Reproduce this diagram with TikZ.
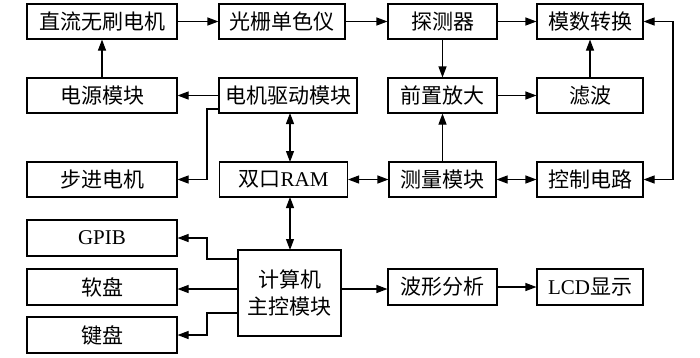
\documentclass[tikz,border=0pt]{standalone}
\usepackage{fontspec}
\setmainfont{Liberation Serif}
\newfontfamily\cjk{Noto Sans CJK SC}
\usetikzlibrary{arrows.meta}
\begin{document}
\begin{tikzpicture}[x=1pt,y=-1pt,
  box/.style={draw,line width=1.1pt,inner sep=0pt,align=center,font=\fontsize{21}{27}\selectfont},
  conn/.style={line width=1.1pt,-{Triangle[length=11pt,width=8pt]}},
  dconn/.style={line width=1.1pt,{Triangle[length=11pt,width=8pt]}-{Triangle[length=11pt,width=8pt]}}]
\useasboundingbox (0,0) rectangle (700,357);
% boxes: center, width, height
\node[box,minimum width=150pt,minimum height=35pt] (m1) at (102,21.5) {\cjk 直流无刷电机};
\node[box,minimum width=126pt,minimum height=35pt] (gs) at (282,21.5) {\cjk 光栅单色仪};
\node[box,minimum width=109pt,minimum height=35pt] (tc) at (442.5,21.5) {\cjk 探测器};
\node[box,minimum width=106pt,minimum height=35pt] (ms) at (590,21.5) {\cjk 模数转换};
\node[box,minimum width=150pt,minimum height=35pt] (dy) at (102,95.5) {\cjk 电源模块};
\node[box,minimum width=138pt,minimum height=35pt] (qd) at (288,95.5) {\cjk 电机驱动模块};
\node[box,minimum width=109pt,minimum height=35pt] (qz) at (442.5,95.5) {\cjk 前置放大};
\node[box,minimum width=106pt,minimum height=35pt] (lb) at (590,95.5) {\cjk 滤波};
\node[box,minimum width=150pt,minimum height=35pt] (bj) at (102,179.5) {\cjk 步进电机};
\node[box,minimum width=128pt,minimum height=35pt] (ram) at (283.5,179.5) {{\cjk 双口}RAM};
\node[box,minimum width=107pt,minimum height=35pt] (cl) at (442.5,179.5) {\cjk 测量模块};
\node[box,minimum width=106pt,minimum height=35pt] (kz) at (590,179.5) {\cjk 控制电路};
\node[box,minimum width=150pt,minimum height=36pt] (gpib) at (102,238) {GPIB};
\node[box,minimum width=150pt,minimum height=36pt] (rp) at (102,287) {\cjk 软盘};
\node[box,minimum width=150pt,minimum height=36pt] (jp) at (102,335) {\cjk 键盘};
\node[box,minimum width=103pt,minimum height=86pt] (pc) at (289.5,293) {\cjk 计算机\\\cjk 主控模块};
\node[box,minimum width=109pt,minimum height=36pt] (bx) at (442.5,287) {\cjk 波形分析};
\node[box,minimum width=106pt,minimum height=36pt] (lcd) at (590,287) {LCD{\cjk 显示}};
% helper coordinates
\coordinate (r1) at (673,21.5);
\coordinate (r2) at (673,179.5);
% row 1
\draw[conn] (m1) -- (gs);
\draw[conn] (gs) -- (tc);
\draw[conn] (tc) -- (ms);
% vertical
\draw[conn] (dy) -- (m1);
\draw[conn] (qd) -- (dy);
\draw[conn] (qd.west |- 0,109) -- (207,109) |- (bj.east);
\draw[dconn] (290,113) -- (290,162);
\draw[conn] (tc) -- (qz);
\draw[conn] (qz) -- (lb);
\draw[conn] (lb) -- (ms);
\draw[conn] (cl) -- (qz);
\draw[dconn] (ram) -- (cl);
\draw[dconn] (cl) -- (kz);
\draw[dconn] (ms.east) -- (r1) -- (r2) -- (kz.east);
\draw[dconn] (290,197) -- (290,250);
% computer
\draw[conn] (pc.west |- 0,259) -- (207,259) |- (gpib.east);
\draw[conn] (pc.west |- 0,289) -- (rp.east |- 0,289);
\draw[conn] (pc.west |- 0,313) -- (207,313) |- (jp.east);
\draw[conn] (pc.east |- 0,289) -- (bx.west |- 0,289);
\draw[conn] (bx) -- (lcd);
\end{tikzpicture}
\end{document}
